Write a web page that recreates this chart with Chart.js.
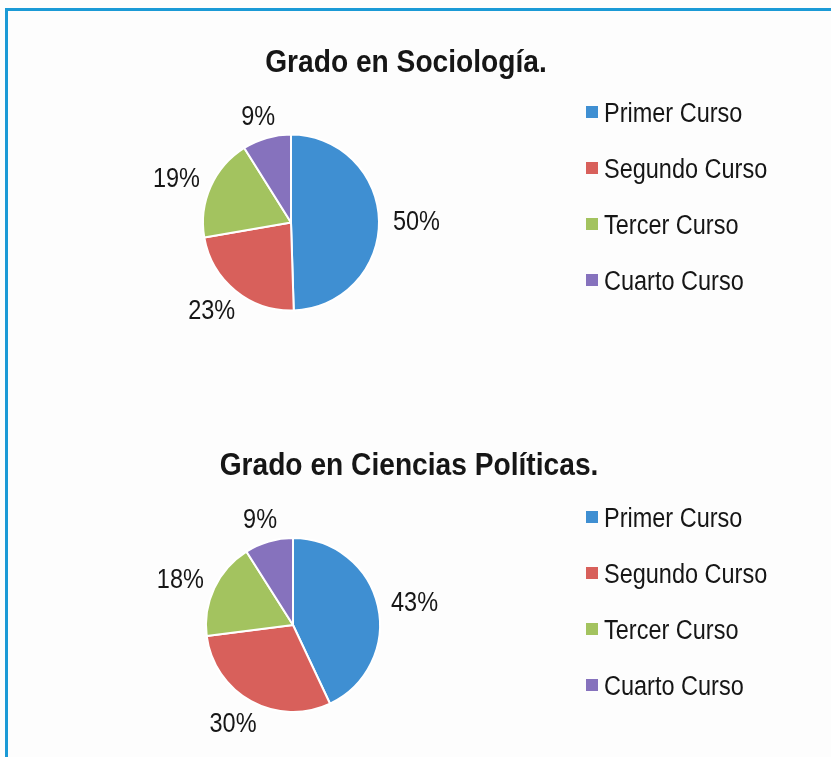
<!DOCTYPE html>
<html>
<head>
<meta charset="utf-8">
<script src="https://cdn.jsdelivr.net/npm/chart.js@4.4.1/dist/chart.umd.min.js"></script>
<style>
  body { margin: 0; background: #fdfdfd; }
  #marco { position: absolute; left: 5px; top: 8px; width: 826px; height: 749px;
           border-top: 3px solid #1b9ad6; border-left: 3px solid #1b9ad6; }
  canvas { position: absolute; left: 0; }
  #c1 { top: 0; }
  #c2 { top: 400px; }
</style>
</head>
<body>
<div id="marco"></div>
<canvas id="c1" width="831" height="400"></canvas>
<canvas id="c2" width="831" height="357"></canvas>
<script>
// datos
var cursos = ['Primer Curso', 'Segundo Curso', 'Tercer Curso', 'Cuarto Curso'];
var sociologia = [50, 23, 19, 9];
var politicas = [43, 30, 18, 9];
var colores = ['#3f8fd2', '#d8605b', '#a3c35f', '#8672bd'];

var FONT = '"Liberation Sans", Arial, sans-serif';

// texto estrechado horizontalmente, como en la imagen
function texto(ctx, str, x, y, size, bold, sx, align) {
  ctx.save();
  ctx.font = (bold ? 'bold ' : '') + size + 'px ' + FONT;
  ctx.fillStyle = '#161616';
  ctx.textAlign = align;
  ctx.textBaseline = 'alphabetic';
  ctx.translate(x, y);
  ctx.scale(sx, 1);
  ctx.fillText(str, 0, 0);
  var w = ctx.measureText(str).width * sx;
  ctx.restore();
  return w;
}

var decoracion = {
  id: 'decoracion',
  afterDraw: function(chart, args, opts) {
    var ctx = chart.ctx;
    // titulo
    texto(ctx, opts.titulo, opts.tituloX, opts.tituloY, 32, true, 0.88, 'center');

    // leyenda
    chart.data.labels.forEach(function(lab, i) {
      var y = opts.leyendaY + i * 56;
      ctx.fillStyle = chart.data.datasets[0].backgroundColor[i];
      ctx.fillRect(586, y - 16, 12, 12);
      texto(ctx, lab, 604, y, 27, false, 0.87, 'left');
    });

    // etiquetas de porcentaje fuera del sector
    var meta = chart.getDatasetMeta(0);
    var valores = chart.data.datasets[0].data;
    var size = 27, sx = 0.87, capH = size * 0.716;
    meta.data.forEach(function(arc, i) {
      var p = arc.getProps(['x', 'y', 'startAngle', 'endAngle', 'outerRadius'], true);
      var mid = (p.startAngle + p.endAngle) / 2;
      var dx = Math.cos(mid), dy = Math.sin(mid);
      var str = valores[i] + '%';
      ctx.save();
      ctx.font = size + 'px ' + FONT;
      var w = ctx.measureText(str).width * sx;
      ctx.restore();
      var d = p.outerRadius + 14;
      var cx = p.x + dx * d + dx * w / 2;
      var cy = p.y + dy * d + dy * capH / 2;
      texto(ctx, str, cx, cy + capH / 2, size, false, sx, 'center');
    });
  }
};

function tarta(id, valores, cfg) {
  return new Chart(document.getElementById(id), {
    type: 'pie',
    data: {
      labels: cursos,
      datasets: [{
        data: valores,
        backgroundColor: colores,
        borderColor: '#ffffff',
        borderWidth: 2
      }]
    },
    options: {
      responsive: false,
      animation: false,
      radius: cfg.radio,
      layout: { padding: cfg.padding },
      plugins: {
        legend: { display: false },
        title: { display: false },
        tooltip: { enabled: false },
        decoracion: cfg
      }
    },
    plugins: [decoracion]
  });
}

tarta('c1', sociologia, {
  titulo: 'Grado en Sociología.', tituloX: 406, tituloY: 72,
  leyendaY: 122, radio: 88,
  padding: { left: 141, right: 390, top: 123, bottom: 78 }
});

tarta('c2', politicas, {
  titulo: 'Grado en Ciencias Políticas.', tituloX: 409, tituloY: 75,
  leyendaY: 127, radio: 87,
  padding: { left: 143, right: 388, top: 125, bottom: 32 }
});
</script>
</body>
</html>
